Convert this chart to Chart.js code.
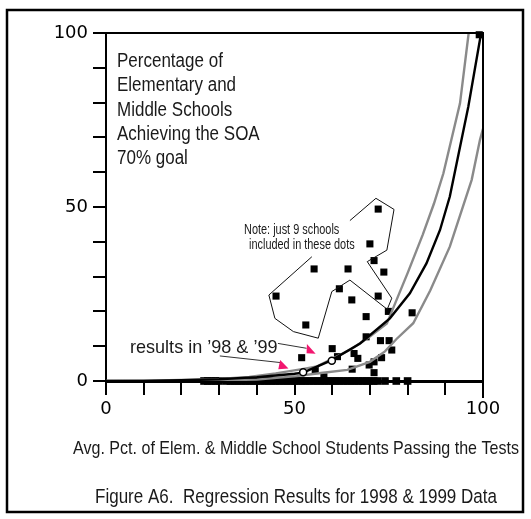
<!DOCTYPE html>
<html><head><meta charset="utf-8">
<script src="https://cdn.jsdelivr.net/npm/chart.js@4/dist/chart.umd.min.js"></script>
<style>html,body{margin:0;padding:0;background:#fff;overflow:hidden}#wrap{width:531px;height:519px}</style>
</head><body><div id="wrap"><canvas id="c" width="531" height="519"></canvas></div>
<script>
// ---- data ----
const xLabelValues = [0, 50, 100];
const yLabelValues = [0, 50, 100];

// schools with a non-zero percentage reaching the goal
const schoolX = [72.2, 70, 71.1, 73.7, 55.2, 64.2, 61.9, 45.1, 72.2, 65.2, 74.9, 81.2, 69, 53, 69, 72.8, 75.1, 75.8, 60, 51.9, 61.4, 65.8, 66.8, 73.1, 69.8, 71.1, 65.3, 71.1, 55.5, 57.8, 99];
const schoolY = [49.4, 39.4, 34.6, 31.3, 32.2, 32.2, 26.5, 24.4, 24.4, 23.3, 20, 19.6, 18.5, 16.1, 12.7, 11.6, 11.6, 8.9, 9.3, 6.7, 7, 7.9, 6.5, 6.7, 4.6, 5.5, 3.4, 2.4, 3, 1.2, 99.5];

// schools with zero percentage reaching the goal
const zeroX = [26,27,28,29,30,32,33,34,35,36,37,38,39,40,41,42,43,44,45,46,47,48,49,50,51,52,53,54,55,56,57,58,59,60,61,62,63,64,65,66,67,68,69,70,71,72,74,77,80];
const zeroY = [0,0,0,0,0,0,0,0,0,0,0,0,0,0,0,0,0,0,0,0,0,0,0,0,0,0,0,0,0,0,0,0,0,0,0,0,0,0,0,0,0,0,0,0,0,0,0,0,0];

// regression curve and its bounds
const fitX = [0, 10, 20, 30, 40, 45, 50, 52.3, 59.9, 67.4, 75.3, 80.6, 85, 88.6, 91.2, 96.1, 99.5];
const fitY = [0, 0.05, 0.2, 0.5, 1.1, 1.6, 2.1, 2.4, 6, 10.8, 18, 25.2, 33.8, 43.4, 53, 78.8, 100];
const upperX = [0, 10, 20, 30, 38, 45, 52, 56, 60, 65, 70, 74.5, 76.2, 80, 84, 87, 89.5, 93.9, 96.2];
const upperY = [0, 0.1, 0.3, 0.6, 1.2, 2.2, 3.4, 4.2, 6.4, 9.1, 12.8, 16.5, 21, 31, 42, 51, 59.7, 79.8, 100];
const lowerX = [0, 20, 40, 50.6, 57, 64, 70, 74, 77, 81.5, 86, 91.2, 97, 99.2, 100];
const lowerY = [0, 0.05, 0.4, 1.4, 2.3, 3.2, 5.5, 8.5, 12, 16.6, 26, 38.6, 57.8, 69.3, 72.5];

// results for '98 and '99 (open circles)
const resultX = [52.3, 59.9];
const resultY = [2.5, 5.8];

// annotation outline around the "9 schools" dots (data coordinates)
const outlineX = [54.6, 43.2, 44.8, 49.7, 56.3, 59.9, 64.7, 74.6, 75.8, 69.3, 74.5, 76.4, 71.6, 64.7];
const outlineY = [35.7, 24.7, 18.0, 14.2, 12.3, 25.7, 29.0, 20.6, 23.8, 34.3, 37.6, 49.3, 52.5, 46.1];
// leader lines and arrow heads (data coordinates)
const leaderA = {x: [45.6, 53.2], y: [10.8, 9.4]};
const leaderB = {x: [30.2, 46.2], y: [7.2, 5.3]};
const arrowA = {x: [53.3, 53.2, 55.6], y: [10.6, 8.0, 7.8]};
const arrowB = {x: [46.2, 45.7, 48.4], y: [6.0, 3.4, 3.6]};

const titleLines = ['Percentage of', 'Elementary and', 'Middle Schools', 'Achieving the SOA', '70% goal'];
const noteLines = ['Note: just 9 schools', 'included in these dots'];
const resultsLabel = "results in \u201998 & \u201999";
const xTitle = 'Avg. Pct. of Elem. & Middle School Students Passing the Tests';
const caption = 'Figure A6.  Regression Results for 1998 & 1999 Data';

const pts = (xs, ys) => xs.map((v, i) => ({x: v, y: ys[i]}));

function ntext(ctx, str, x, y, size, sx, align) {
  ctx.save();
  ctx.font = size + 'px "Liberation Sans", Arial, sans-serif';
  ctx.textBaseline = 'alphabetic';
  ctx.textAlign = 'left';
  ctx.fillStyle = '#1a1a1a';
  const w = ctx.measureText(str).width * sx;
  const x0 = align === 'center' ? x - w / 2 : x;
  ctx.translate(x0, y);
  ctx.scale(sx, 1);
  ctx.fillText(str, 0, 0);
  ctx.restore();
}

const annot = {
  id: 'annot',
  afterDatasetsDraw(chart) {
    const {ctx, chartArea: a} = chart;
    const sx = chart.scales.x, sy = chart.scales.y;
    const px = v => sx.getPixelForValue(v), py = v => sy.getPixelForValue(v);
    ctx.save();
    // top and right frame of plot
    ctx.strokeStyle = '#000'; ctx.lineWidth = 2;
    ctx.beginPath(); ctx.moveTo(a.left - 1, a.top); ctx.lineTo(a.right, a.top); ctx.lineTo(a.right, a.bottom + 17); ctx.stroke();
    // outline
    ctx.lineWidth = 1; ctx.strokeStyle = '#111';
    ctx.beginPath();
    outlineX.forEach((v, i) => i ? ctx.lineTo(px(v), py(outlineY[i])) : ctx.moveTo(px(v), py(outlineY[i])));
    ctx.stroke();
    // leaders
    ctx.strokeStyle = '#333';
    [leaderA, leaderB].forEach(l => {
      ctx.beginPath(); ctx.moveTo(px(l.x[0]), py(l.y[0])); ctx.lineTo(px(l.x[1]), py(l.y[1])); ctx.stroke();
    });
    // arrow heads
    ctx.fillStyle = '#f2166f';
    [arrowA, arrowB].forEach(t => {
      ctx.beginPath();
      t.x.forEach((v, i) => i ? ctx.lineTo(px(v), py(t.y[i])) : ctx.moveTo(px(v), py(t.y[i])));
      ctx.closePath(); ctx.fill();
    });
    // texts
    titleLines.forEach((s, i) => ntext(ctx, s, 117, 67 + i * 24.3, 20, 0.85, 'left'));
    ntext(ctx, noteLines[0], 244, 234, 14, 0.78, 'left');
    ntext(ctx, noteLines[1], 249, 249, 14, 0.78, 'left');
    ntext(ctx, resultsLabel, 130, 353, 19, 0.95, 'left');
    ntext(ctx, xTitle, 296, 454, 19, 0.845, 'center');
    ntext(ctx, caption, 296, 503, 20.5, 0.83, 'center');
    ctx.restore();
  },
  afterDraw(chart) {
    const ctx = chart.ctx;
    ctx.save();
    ctx.strokeStyle = '#000'; ctx.lineWidth = 2.5;
    ctx.strokeRect(7, 10, 516, 502);
    ctx.restore();
  }
};

const tickFont = {family: '"DejaVu Sans", sans-serif', size: 18};

new Chart(document.getElementById('c'), {
  type: 'scatter',
  data: {
    datasets: [
      {label: "'98 & '99", data: pts(resultX, resultY), pointStyle: 'circle', pointRadius: 3.5, borderColor: '#000', borderWidth: 1.5, backgroundColor: '#fff', order: 0},
      {label: 'fit', data: pts(fitX, fitY), showLine: true, pointRadius: 0, borderColor: '#000', borderWidth: 2.4, order: 1},
      {label: 'upper', data: pts(upperX, upperY), showLine: true, pointRadius: 0, borderColor: '#8a8a8a', borderWidth: 2.4, order: 2},
      {label: 'lower', data: pts(lowerX, lowerY), showLine: true, pointRadius: 0, borderColor: '#8a8a8a', borderWidth: 2.4, order: 2},
      {label: 'schools', data: pts(schoolX, schoolY), pointStyle: 'rect', pointRadius: 5, borderWidth: 0, backgroundColor: '#000', order: 3, clip: false},
      {label: 'zero', data: pts(zeroX, zeroY), pointStyle: 'rect', pointRadius: 5.4, borderWidth: 0, backgroundColor: '#000', order: 3, clip: false}
    ]
  },
  options: {
    responsive: false,
    animation: false,
    events: [],
    devicePixelRatio: 1,
    layout: {padding: {left: 0, right: 48, top: 33, bottom: 0}},
    plugins: {legend: {display: false}, tooltip: {enabled: false}, title: {display: false}},
    scales: {
      x: {
        type: 'linear', min: 0, max: 100,
        afterFit: s => { s.height = 138; },
        ticks: {stepSize: 10, autoSkip: false, maxRotation: 0, padding: 4, color: '#000', font: tickFont,
          callback: v => xLabelValues.includes(v) ? String(v) : ''},
        grid: {drawOnChartArea: false, drawTicks: true, tickLength: 14, color: '#000', lineWidth: 2},
        border: {display: true, color: '#000', width: 3}
      },
      y: {
        type: 'linear', min: 0, max: 100,
        afterFit: s => { s.width = 106; },
        ticks: {stepSize: 10, autoSkip: false, padding: 5, color: '#000', font: tickFont,
          callback: v => yLabelValues.includes(v) ? String(v) : ''},
        grid: {drawOnChartArea: false, drawTicks: true, tickLength: 13, color: '#000', lineWidth: 2},
        border: {display: true, color: '#000', width: 2}
      }
    }
  },
  plugins: [annot]
});
</script>
</body></html>
